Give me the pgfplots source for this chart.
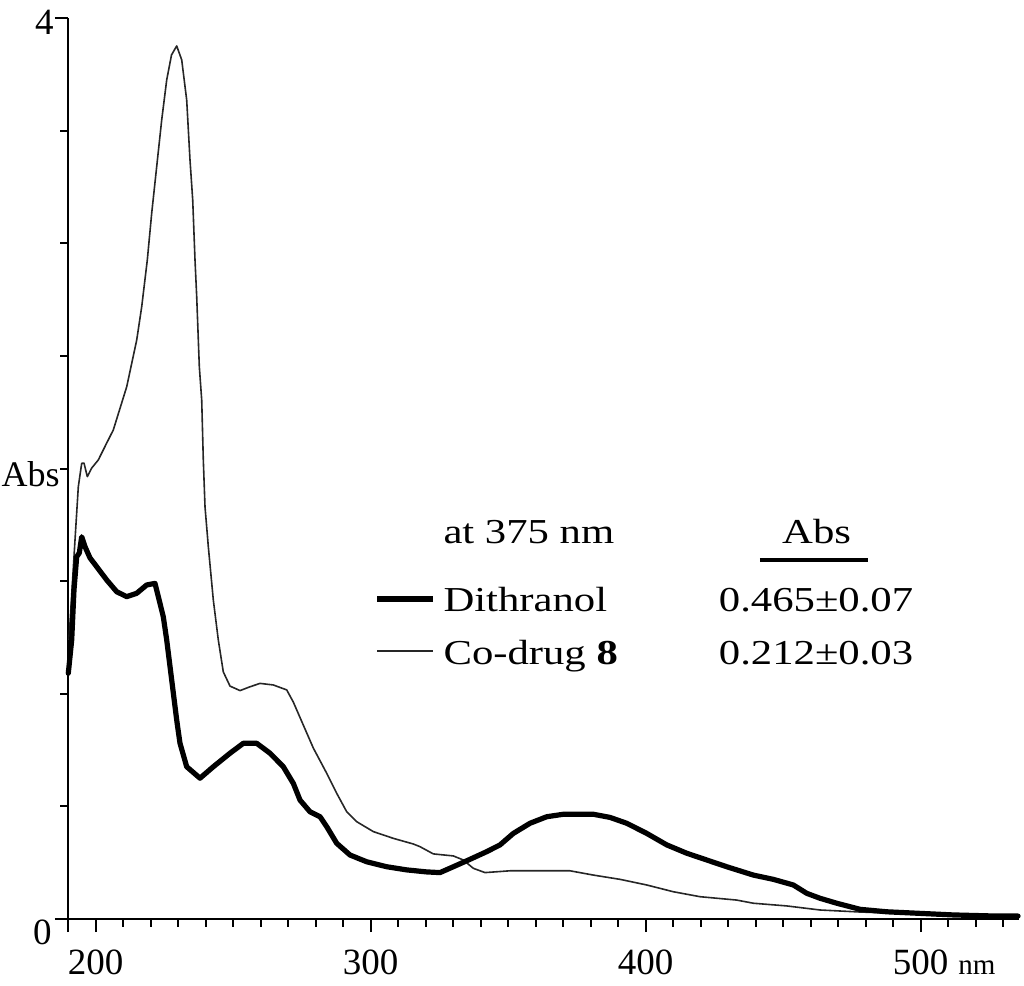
\documentclass[border=0pt]{standalone}
\usepackage{pgfplots}
\pgfplotsset{compat=1.18}
\usepackage{fontspec}
\setmainfont{Liberation Serif}

% UV spectra
\pgfplotstableread{
x y
190.36 1.239
192.55 1.683
193.75 1.919
194.98 2.023
195.82 2.024
197.02 1.964
198.62 2.002
201.02 2.038
204.07 2.113
206.47 2.171
211.35 2.363
214.98 2.570
216.80 2.718
218.84 2.926
220.44 3.134
222.25 3.340
224.07 3.547
225.89 3.725
227.64 3.836
229.53 3.876
231.35 3.814
233.16 3.636
234.36 3.370
235.35 3.192
236.18 2.926
236.80 2.763
237.75 2.452
238.62 2.304
239.20 2.038
239.82 1.830
241.02 1.653
242.84 1.416
244.65 1.239
246.47 1.097
248.91 1.034
252.55 1.014
256.18 1.031
259.82 1.046
264.65 1.039
269.53 1.017
271.93 0.963
275.56 0.861
279.20 0.759
284.07 0.647
287.71 0.558
291.35 0.476
294.98 0.432
301.02 0.388
308.29 0.358
315.56 0.333
318.00 0.321
322.84 0.289
330.11 0.280
333.75 0.262
337.38 0.225
341.64 0.206
350.73 0.214
372.55 0.214
381.02 0.195
390.73 0.176
400.44 0.151
410.11 0.121
419.82 0.099
433.16 0.084
439.20 0.070
451.35 0.058
463.45 0.040
478.00 0.031
499.80 0.022
535.45 0.011
}\codrug

\pgfplotstableread{
x y
190.11 1.091
191.35 1.239
192.18 1.461
193.16 1.608
194.11 1.625
194.98 1.697
196.18 1.653
198.00 1.603
200.44 1.564
204.07 1.505
207.71 1.453
211.35 1.431
214.98 1.446
218.62 1.483
221.64 1.490
222.84 1.431
224.65 1.342
225.89 1.239
227.71 1.061
229.53 0.883
230.73 0.780
233.16 0.676
238.00 0.625
242.84 0.676
248.91 0.736
253.75 0.780
258.62 0.780
263.45 0.736
268.29 0.676
271.93 0.602
274.36 0.528
278.00 0.476
281.64 0.454
284.07 0.410
287.71 0.336
292.55 0.284
298.62 0.254
305.89 0.232
313.16 0.218
320.44 0.209
325.27 0.206
330.11 0.232
336.18 0.265
342.25 0.299
347.09 0.329
351.93 0.380
358.00 0.425
364.07 0.454
370.11 0.465
381.02 0.465
387.09 0.451
393.16 0.425
400.44 0.380
407.71 0.329
414.98 0.292
422.25 0.262
429.53 0.232
439.20 0.195
446.47 0.176
453.75 0.151
458.62 0.114
463.45 0.092
469.53 0.070
478.00 0.043
487.71 0.032
499.82 0.025
511.93 0.018
527.71 0.013
535.45 0.013
}\dithranol

\newcommand{\legtext}[1]{\scalebox{1.22}[1]{\fontsize{17.5}{20}\selectfont #1}}

\begin{document}
\begin{tikzpicture}
\begin{axis}[
    scale only axis,
    width=475.5pt, height=450.5pt,
    xmin=190, xmax=535.8,
    ymin=0, ymax=4,
    clip=false,
    axis x line=bottom, axis y line=left,
    axis line style={-, line width=1pt},
    xtick align=outside, ytick align=outside,
    every tick/.style={black, line width=1pt},
    major tick length=6.5pt,
    minor tick length=3.75pt,
    xtick={190,200,300,400,500},
    xticklabels={,200,300,400,{500\makebox[0pt][l]{\hspace{5pt}\fontsize{14.5}{16}\selectfont nm}}},
    minor xtick={210,220,...,290,310,320,...,390,410,420,...,490,510,520,530},
    ytick={0,4}, yticklabels={,},
    minor ytick={0.5,1,...,3.5},
    xticklabel style={anchor=base, inner sep=0pt, yshift=-21pt,
        font=\fontsize{18.5}{22}\selectfont},
]
\addplot[black!85, line width=0.8pt, line join=round] table {\codrug};
\addplot[black, line width=2.6pt, line join=round, line cap=round] table {\dithranol};

% y axis labels
\node[anchor=base east, inner sep=0pt, font=\fontsize{18.5}{22}\selectfont] at (axis cs:184.9,3.925) {4};
\node[anchor=base east, inner sep=0pt, font=\fontsize{18.5}{22}\selectfont] at (axis cs:184.2,-0.115) {0};
\node[anchor=base east, inner sep=0pt, font=\fontsize{18}{22}\selectfont] at (axis cs:187.1,1.918) {Abs};

% legend
\node[anchor=base west, inner sep=0pt] at (axis cs:326.4,1.669) {\legtext{at 375 nm}};
\node[anchor=base, inner sep=0pt] at (axis cs:462.2,1.669) {\legtext{Abs}};
\draw[line width=2pt] (axis cs:441.6,1.594) -- (axis cs:480.9,1.594);
\draw[line width=2.6pt] (axis cs:302.4,1.421) -- (axis cs:322.7,1.421);
\node[anchor=base west, inner sep=0pt] at (axis cs:326.4,1.363) {\legtext{Dithranol}};
\draw[black!85, line width=0.8pt] (axis cs:302.4,1.190) -- (axis cs:322.7,1.190);
\node[anchor=base west, inner sep=0pt] at (axis cs:326.4,1.132) {\legtext{Co-drug \textbf{8}}};
\node[anchor=base, inner sep=0pt] at (axis cs:462.0,1.363) {\legtext{0.465±0.07}};
\node[anchor=base, inner sep=0pt] at (axis cs:462.0,1.132) {\legtext{0.212±0.03}};
\end{axis}
\pgfresetboundingbox
\path (current axis.south west) ++(-34pt,-33.5pt) rectangle ++(512pt,493pt);
\end{tikzpicture}
\end{document}
